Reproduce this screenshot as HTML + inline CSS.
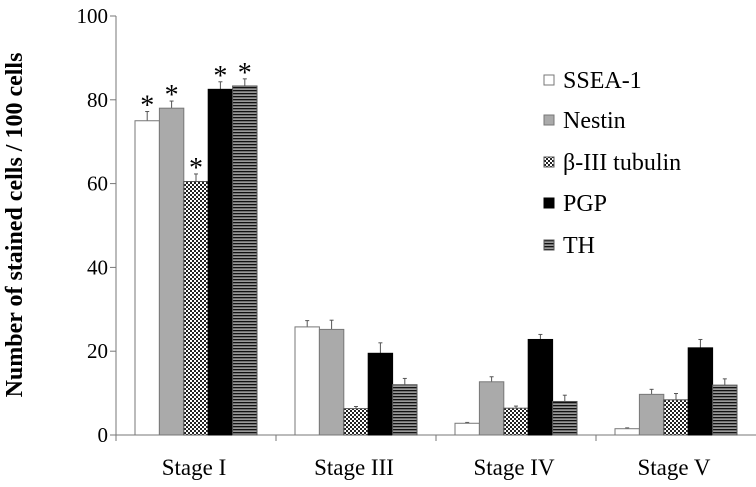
<!DOCTYPE html>
<html><head><meta charset="utf-8"><style>
body{margin:0;background:#fff;}
svg text{font-family:"Liberation Serif",serif;}
</style></head><body>
<svg width="756" height="482" viewBox="0 0 756 482">
<defs>
<pattern id="chk" width="4" height="4" patternUnits="userSpaceOnUse"><rect width="4" height="4" fill="#fff"/><rect width="2" height="2" fill="#222"/><rect x="2" y="2" width="2" height="2" fill="#222"/></pattern>
<pattern id="hstr" width="4" height="3" patternUnits="userSpaceOnUse"><rect width="4" height="3" fill="#999"/><rect width="4" height="1.3" fill="#111"/></pattern>
</defs>
<g id="plot"></g>
<text x="22" y="225" transform="rotate(-90 22 225)" text-anchor="middle" font-size="24" font-weight="bold">Number of stained cells / 100 cells</text>
</svg>
<script>
const categories=["Stage I","Stage III","Stage IV","Stage V"];
const seriesNames=["SSEA-1","Nestin","β-III tubulin","PGP","TH"];
const ssea=[75,25.8,2.8,1.5];
const nestin=[78,25.2,12.7,9.7];
const tubulin=[60.5,6.3,6.4,8.4];
const pgp=[82.5,19.5,22.8,20.8];
const th=[83.3,12,8,11.9];
const sseaErr=[2.2,1.5,0.2,0.2];
const nestinErr=[1.7,2.2,1.2,1.2];
const tubulinErr=[1.8,0.5,0.5,1.5];
const pgpErr=[1.8,2.5,1.2,2];
const thErr=[1.7,1.5,1.5,1.5];
const stars=[true,false,false,false];
const yTicks=[0,20,40,60,80,100];
const series=[ssea,nestin,tubulin,pgp,th];
const errs=[sseaErr,nestinErr,tubulinErr,pgpErr,thErr];
const fills=["#fff","#aaa","url(#chk)","#000","url(#hstr)"];
const strokes=["#777","#777","#555","#000","#555"];
const NS="http://www.w3.org/2000/svg";
const g=document.getElementById('plot');
const x0=116,catW=160,y0=435,yTop=16,bw=24.4,off=19;
const y=v=>y0-(v/100)*(y0-yTop);
function el(t,a){const e=document.createElementNS(NS,t);for(const k in a)e.setAttribute(k,a[k]);g.appendChild(e);return e;}
let ax=el('line',{x1:x0,y1:yTop,x2:x0,y2:y0,stroke:'#777','stroke-width':1});


let xa=el('line',{x1:x0,y1:y0,x2:756,y2:y0,stroke:'#777','stroke-width':1});


yTicks.forEach(t=>{
 let l=el('line',{x1:x0-6,x2:x0,y1:y(t),y2:y(t),stroke:'#777'});
 
 
 let tx=el('text',{x:x0-8,y:y(t)+7,'text-anchor':'end','font-size':21});
 tx.textContent=t;
 
 
});
categories.forEach((c,i)=>{
 let l=el('line',{x1:x0+i*catW,x2:x0+i*catW,y1:y0,y2:y0+6,stroke:'#777'});
 
 
 let tx=el('text',{x:x0+i*catW+catW/2-2,y:475,'text-anchor':'middle','font-size':23});
 tx.textContent=c;
 
 
 series.forEach((s,j)=>{
  const bx=x0+i*catW+off+j*bw, v=s[i], e=errs[j][i];
  const cx=bx+bw/2;
  let er=el('line',{x1:cx,x2:cx,y1:y(v),y2:y(v+e),stroke:'#555'});
  
  
  let cap=el('line',{x1:cx-2,x2:cx+2,y1:y(v+e),y2:y(v+e),stroke:'#555'});
  
  
  let r=el('rect',{x:bx,y:y(v),width:bw,height:y0-y(v),fill:fills[j],stroke:strokes[j],'stroke-width':1});
  
  
  if(stars[i]){
   let st=el('text',{x:cx,y:y(v+e)+3,'text-anchor':'middle','font-size':28,'font-family':'Liberation Sans, sans-serif'});
   st.textContent='*';
   
   
  }
 });
});
const legY=[80,120,162,203,245];
seriesNames.forEach((n,j)=>{
 let r=el('rect',{x:544,y:legY[j]-5,width:10,height:10,fill:fills[j],stroke:strokes[j]});
 
 
 let t=el('text',{x:563,y:legY[j]+8,'font-size':24});
 t.textContent=n;
 
 
});
</script>
</body></html>
